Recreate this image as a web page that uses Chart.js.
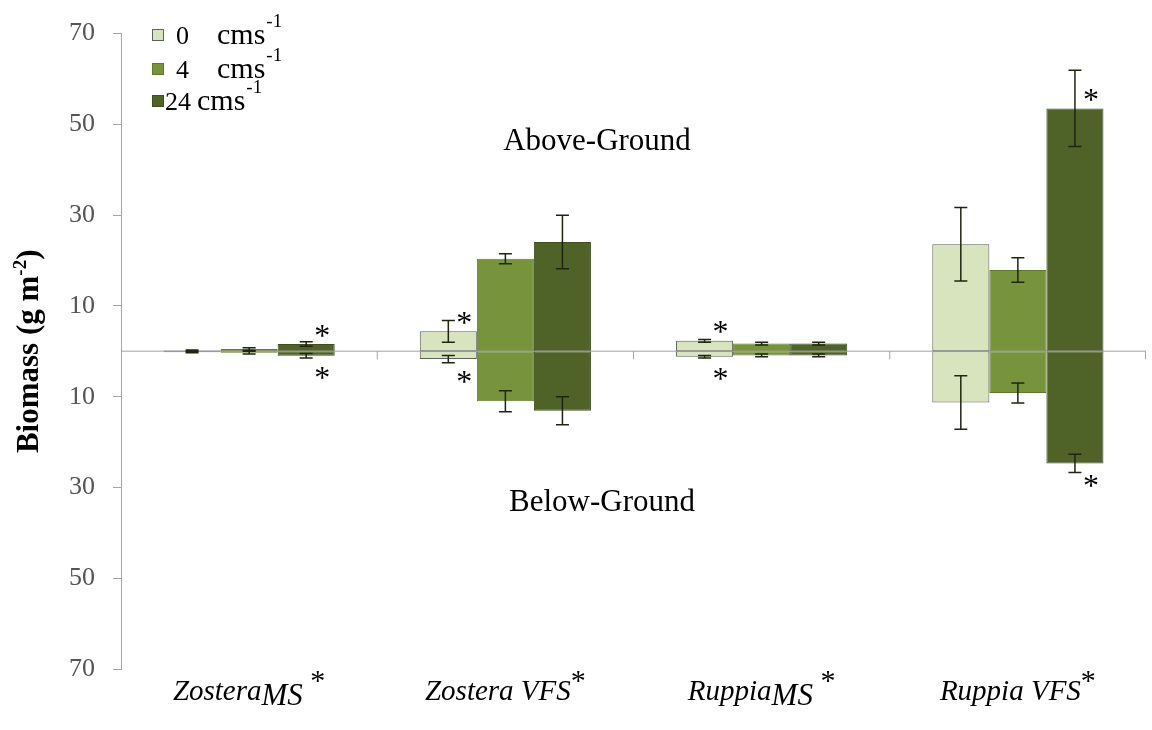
<!DOCTYPE html>
<html>
<head>
<meta charset="utf-8">
<script src="https://cdn.jsdelivr.net/npm/chart.js@4.4.1/dist/chart.umd.min.js"></script>
<style>
  html, body { margin: 0; padding: 0; background: #ffffff; }
  #wrap { width: 1152px; height: 730px; }
</style>
</head>
<body>
<div id="wrap"><canvas id="c" width="1152" height="730"></canvas></div>
<script>
// Categories: genus + site
const genus = ['Zostera', 'Zostera', 'Ruppia', 'Ruppia'];
const site = ['MS', 'VFS', 'MS', 'VFS'];
const categories = genus.map((g, i) => g + ' ' + site[i]);

// Flow speeds (cm s^-1)
const speeds = ['0', '4', '24'];

// Above-ground biomass (g m^-2) and standard errors, per flow speed
const above0 = [0.2, 4.4, 2.3, 23.6];
const above4 = [0.5, 20.4, 1.7, 17.9];
const above24 = [1.6, 24.1, 1.7, 53.5];
const aboveErr0 = [0.1, 2.4, 0.3, 8.1];
const aboveErr4 = [0.3, 1.1, 0.3, 2.7];
const aboveErr24 = [0.5, 5.9, 0.3, 8.4];

// Below-ground biomass (g m^-2, plotted downward) and standard errors
const below0 = [-0.2, -1.7, -1.2, -11.3];
const below4 = [-0.3, -11.0, -0.9, -9.2];
const below24 = [-1.0, -13.1, -0.9, -24.7];
const belowErr0 = [0.1, 0.8, 0.3, 5.9];
const belowErr4 = [0.3, 2.3, 0.3, 2.2];
const belowErr24 = [0.5, 3.1, 0.3, 2.0];

// Which flow-speed series carries a significance asterisk in each category
const starAbove = [2, 0, 0, 2];
const starBelow = [2, 0, 0, 2];

// Y tick values (labels show magnitude only)
const yTicks = [-70, -50, -30, -10, 10, 30, 50, 70];

const fills = ['#d7e4bd', '#77933c', '#4f6228'];
const borders = ['#5f5f5f', '#5e7a2c', '#3f4f1f'];

const aboveSets = [above0, above4, above24];
const belowSets = [below0, below4, below24];
const aboveErrs = [aboveErr0, aboveErr4, aboveErr24];
const belowErrs = [belowErr0, belowErr4, belowErr24];

const datasets = [];
speeds.forEach((s, k) => {
  datasets.push({
    label: s + ' above', data: aboveSets[k], errors: aboveErrs[k], stack: 's' + k, series: k,
    backgroundColor: fills[k], borderColor: borders[k], borderWidth: 1, borderSkipped: false
  });
  datasets.push({
    label: s + ' below', data: belowSets[k], errors: belowErrs[k], stack: 's' + k, series: k,
    backgroundColor: fills[k], borderColor: borders[k], borderWidth: 1, borderSkipped: false
  });
});

const SERIF = '"Liberation Serif", "Times New Roman", serif';

function findMeta(chart, series, positive) {
  const idx = datasets.findIndex(d => d.series === series && (d.data[0] >= 0) === positive);
  return { meta: chart.getDatasetMeta(idx), ds: datasets[idx] };
}

const decorations = {
  id: 'decorations',
  afterDatasetsDraw(chart) {
    const ctx = chart.ctx;
    const y = chart.scales.y, x = chart.scales.x;
    const area = chart.chartArea;
    const y0 = y.getPixelForValue(0);

    // zero line and category separators
    ctx.save();
    ctx.strokeStyle = 'rgba(150,150,150,0.6)';
    ctx.lineWidth = 1.5;
    ctx.beginPath();
    ctx.moveTo(area.left, y0);
    ctx.lineTo(area.right, y0);
    ctx.stroke();
    ctx.strokeStyle = '#a6a6a6';
    ctx.lineWidth = 1;
    for (let i = 1; i <= categories.length; i++) {
      const bx = i < categories.length
        ? (x.getPixelForValue(i - 1) + x.getPixelForValue(i)) / 2
        : area.right - 0.5;
      ctx.beginPath();
      ctx.moveTo(bx, y0);
      ctx.lineTo(bx, y0 + 8);
      ctx.stroke();
    }

    // error bars
    ctx.strokeStyle = '#1e2612';
    ctx.lineWidth = 1.5;
    chart.data.datasets.forEach((ds, di) => {
      const meta = chart.getDatasetMeta(di);
      meta.data.forEach((bar, i) => {
        const v = ds.data[i], e = ds.errors[i];
        const yt = y.getPixelForValue(v + e);
        const yb = y.getPixelForValue(v - e);
        const cx = bar.x;
        ctx.beginPath();
        ctx.moveTo(cx, yt); ctx.lineTo(cx, yb);
        ctx.moveTo(cx - 6.5, yt); ctx.lineTo(cx + 6.5, yt);
        ctx.moveTo(cx - 6.5, yb); ctx.lineTo(cx + 6.5, yb);
        ctx.stroke();
      });
    });

    // significance asterisks
    ctx.fillStyle = '#000';
    ctx.font = '32px ' + SERIF;
    ctx.textAlign = 'center';
    ctx.textBaseline = 'alphabetic';
    categories.forEach((c, i) => {
      const a = findMeta(chart, starAbove[i], true).meta.data[i];
      ctx.fillText('*', a.x + 16, a.y - 14 + 15.5);
      const b = findMeta(chart, starBelow[i], false).meta.data[i];
      ctx.fillText('*', b.x + 16, b.y + 17 + 15.5);
    });
    ctx.restore();
  },
  afterDraw(chart) {
    const ctx = chart.ctx;
    const x = chart.scales.x;
    const area = chart.chartArea;
    ctx.save();
    ctx.fillStyle = '#000';
    ctx.textBaseline = 'alphabetic';

    // panel captions
    ctx.font = '31px ' + SERIF;
    ctx.textAlign = 'center';
    ctx.fillText('Above-Ground', 597, 150);
    ctx.fillText('Below-Ground', 602, 511);

    // category labels
    ctx.textAlign = 'left';
    categories.forEach((c, i) => {
      const cx = x.getPixelForValue(i);
      const isMS = site[i] === 'MS';
      const parts = [
        { t: genus[i], f: 'italic 29px ' + SERIF, dy: 0 },
        { t: isMS ? site[i] : ' ' + site[i], f: 'italic ' + (isMS ? 31 : 29) + 'px ' + SERIF, dy: isMS ? 5 : 0 },
        { t: isMS ? ' *' : '*', f: '30px ' + SERIF, dy: -10 }
      ];
      let w = 0;
      parts.forEach(p => { ctx.font = p.f; p.w = ctx.measureText(p.t).width; w += p.w; });
      let px = cx - w / 2;
      parts.forEach(p => { ctx.font = p.f; ctx.fillText(p.t, px, 700 + p.dy); px += p.w; });
    });

    // y-axis title
    ctx.save();
    ctx.translate(38, (area.top + area.bottom) / 2);
    ctx.rotate(-Math.PI / 2);
    const t1 = 'Biomass (g m', t2 = '-2', t3 = ')';
    ctx.font = 'bold 31px ' + SERIF; const w1 = ctx.measureText(t1).width; const w3 = ctx.measureText(t3).width;
    ctx.font = 'bold 19px ' + SERIF; const w2 = ctx.measureText(t2).width;
    let tx = -(w1 + w2 + w3) / 2;
    ctx.font = 'bold 31px ' + SERIF; ctx.fillText(t1, tx, 0); tx += w1;
    ctx.font = 'bold 19px ' + SERIF; ctx.fillText(t2, tx, -12); tx += w2;
    ctx.font = 'bold 31px ' + SERIF; ctx.fillText(t3, tx, 0);
    ctx.restore();

    // legend
    const baselines = [44, 78, 110];
    const cmsX = [217, 217, 197];
    speeds.forEach((s, k) => {
      const by = baselines[k];
      ctx.fillStyle = fills[k];
      ctx.fillRect(152, by - 15, 12, 12);
      ctx.strokeStyle = borders[k];
      ctx.lineWidth = 1;
      ctx.strokeRect(152.5, by - 14.5, 11, 11);
      ctx.fillStyle = '#000';
      ctx.textAlign = 'left';
      ctx.font = '26px ' + SERIF;
      ctx.fillText(s, s.length > 1 ? 165 : 176, by);
      ctx.font = '30px ' + SERIF;
      ctx.fillText('cms', cmsX[k], by);
      const cw = ctx.measureText('cms').width;
      ctx.font = '19px ' + SERIF;
      ctx.fillText('-1', cmsX[k] + cw + 1, by - 17);
    });
    ctx.restore();
  }
};

new Chart(document.getElementById('c'), {
  type: 'bar',
  data: { labels: categories, datasets },
  options: {
    responsive: false,
    animation: false,
    devicePixelRatio: 1,
    categoryPercentage: 0.668,
    barPercentage: 1.0,
    layout: { padding: { left: 0, right: 6, top: 32, bottom: 61 } },
    plugins: { legend: { display: false }, tooltip: { enabled: false } },
    scales: {
      x: { display: false, stacked: true },
      y: {
        stacked: true,
        min: -70, max: 70,
        afterBuildTicks: s => { s.ticks = yTicks.map(v => ({ value: v })); },
        afterFit: s => { s.width = 121; },
        ticks: {
          callback: v => String(Math.abs(v)),
          font: { family: SERIF, size: 26 },
          color: '#555555',
          padding: 18
        },
        grid: { drawOnChartArea: false, drawTicks: true, tickLength: 8, color: '#a6a6a6' },
        border: { display: true, color: '#a6a6a6', width: 1 }
      }
    }
  },
  plugins: [decorations]
});
</script>
</body>
</html>
